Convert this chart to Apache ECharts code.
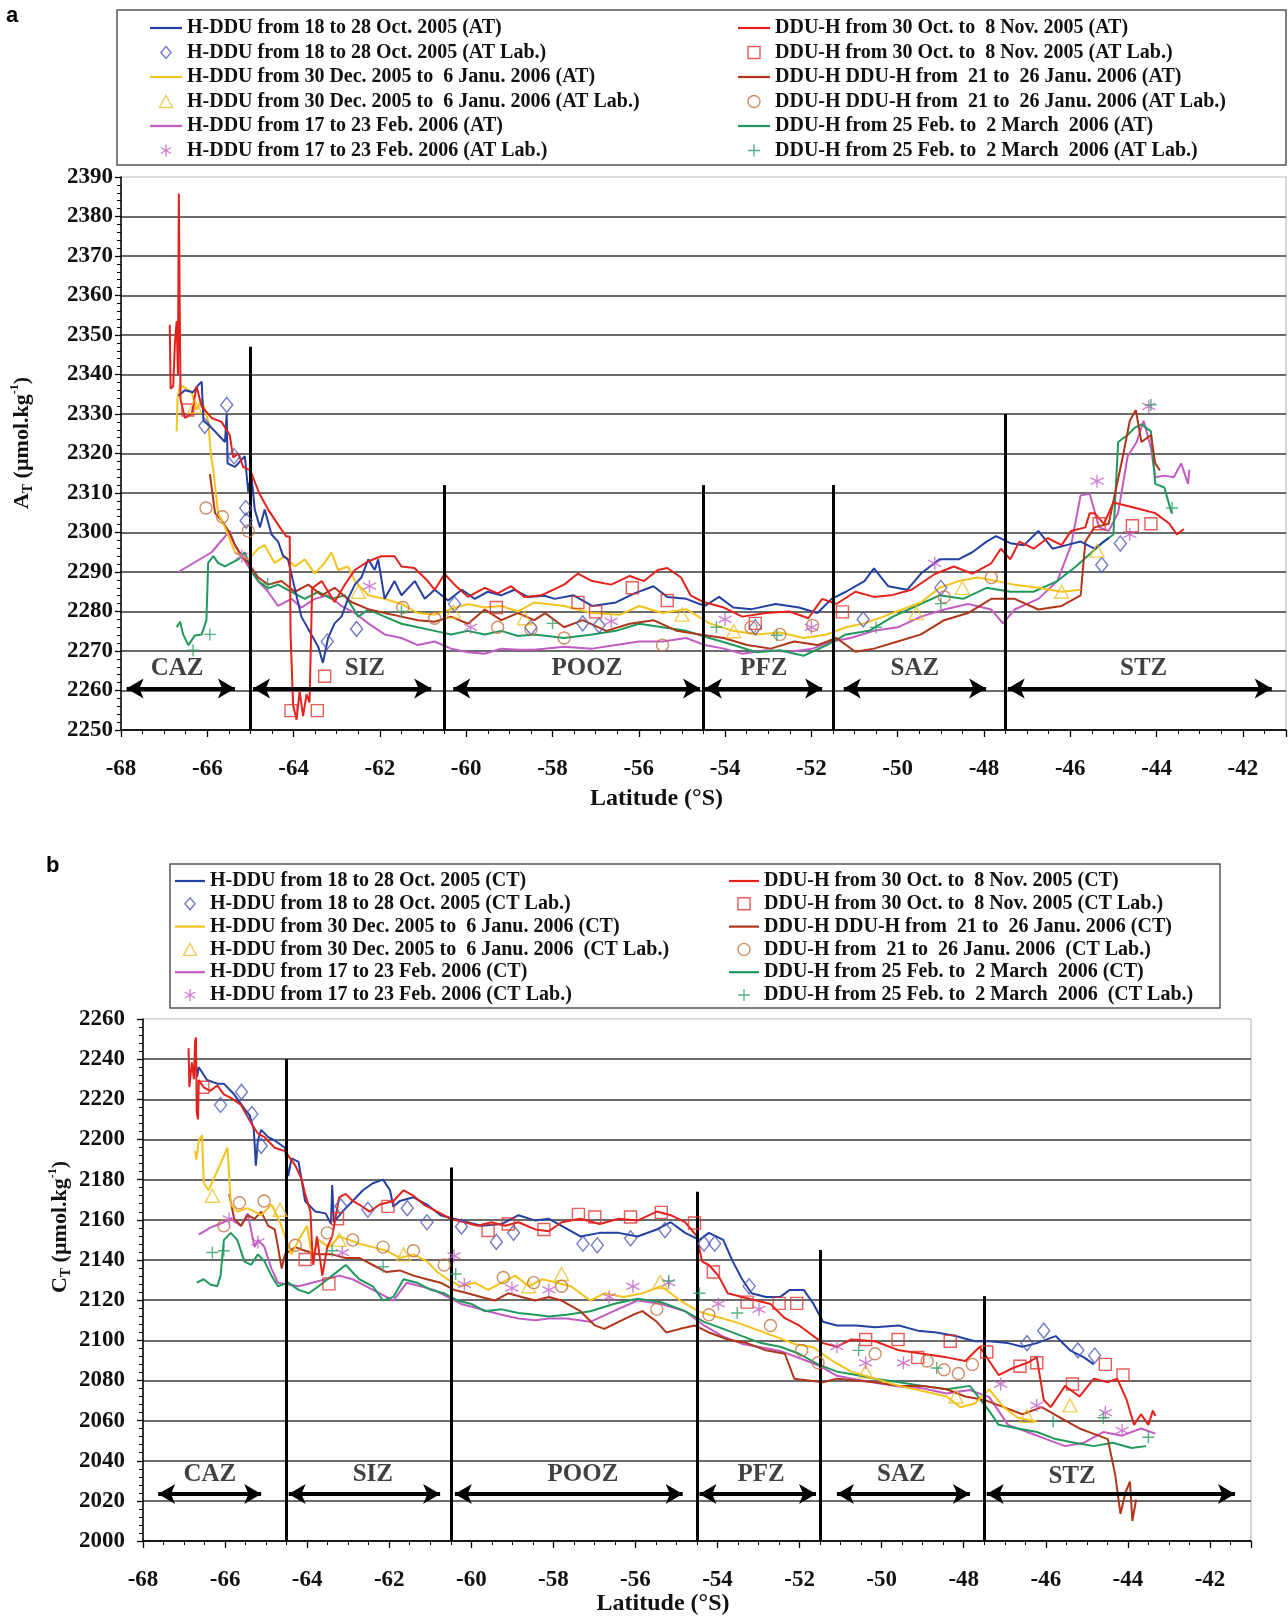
<!DOCTYPE html>
<html><head><meta charset="utf-8">
<script src="https://cdn.jsdelivr.net/npm/echarts@6/dist/echarts.min.js"></script>
<style>html,body{margin:0;padding:0;background:#fff}#c{width:1288px;height:1617px}</style>
</head><body><div id="c"></div>
<script>
// ---------- axis ticks ----------
const xTicks = {min: -68, max: -41, interval: 2};
const aYTicks = {min: 2250, max: 2390, interval: 10};
const bYTicks = {min: 2000, max: 2260, interval: 20};

// ---------- zones ----------
const aZoneLines = [-65, -60.5, -54.5, -51.5, -47.5];
const aZoneTops = [2347, 2312, 2312, 2312, 2330];
const aArrows = [[-67.87,-65.36],[-64.94,-60.81],[-60.3,-54.58],[-54.47,-51.75],[-51.25,-47.95],[-47.45,-41.33]];
const aArrowY = 2260.5;
const aZoneLabels = [[-66.7,2265.5,'CAZ'],[-62.35,2265.5,'SIZ'],[-57.2,2265.5,'POOZ'],[-53.1,2265.5,'PFZ'],[-49.6,2265.5,'SAZ'],[-44.3,2265.5,'STZ']];

const bZoneLines = [-64.5, -60.5, -54.5, -51.5, -47.5];
const bZoneTops = [2240, 2186, 2174, 2145, 2122];
const bArrows = [[-67.63,-65.12],[-64.45,-60.76],[-60.4,-54.85],[-54.44,-51.6],[-51.09,-47.85],[-47.44,-41.39]];
const bArrowY = 2023.5;
const bZoneLabels = [[-66.37,2033,'CAZ'],[-62.4,2033,'SIZ'],[-57.28,2033,'POOZ'],[-52.94,2033,'PFZ'],[-49.52,2033,'SAZ'],[-45.36,2032,'STZ']];

// ---------- panel a : AT ----------
const aBlue = [[-66.67,2334.6],[-66.52,2336],[-66.33,2335.5],[-66.21,2337.3],[-66.13,2338.2],[-66.09,2328.3],[-65.9,2326.5],[-65.59,2322.9],[-65.55,2330.1],[-65.53,2317.5],[-65.36,2316.6],[-65.13,2319.3],[-65.05,2310.3],[-64.98,2314.8],[-64.9,2305.8],[-64.78,2301.3],[-64.67,2305.8],[-64.51,2299.5],[-64.36,2297.7],[-64.24,2294],[-64.13,2293.2],[-63.82,2278.7],[-63.43,2271.1],[-63.32,2267],[-63.2,2273.3],[-63.05,2277],[-62.89,2278.7],[-62.74,2283.2],[-62.58,2286.8],[-62.43,2288.6],[-62.27,2293.2],[-62.12,2290.5],[-62.04,2293.2],[-61.89,2283.2],[-61.66,2287.7],[-61.5,2284.1],[-61.19,2287.7],[-60.96,2283.2],[-60.73,2285.5],[-60.42,2282.8],[-60.1,2285.5],[-59.8,2283.2],[-59.5,2285],[-59.19,2284.1],[-58.88,2285.5],[-58.57,2283.7],[-58.18,2284],[-57.95,2283.2],[-57.51,2284.1],[-57.08,2281.4],[-56.53,2282.3],[-56.1,2284.6],[-55.66,2286.4],[-55.34,2283.7],[-54.9,2283.2],[-54.47,2281.4],[-54.14,2283.7],[-53.81,2281],[-53.38,2280.6],[-52.83,2281.9],[-52.29,2281],[-51.86,2279.6],[-51.53,2283.2],[-51.2,2285],[-50.77,2287.7],[-50.55,2290.9],[-50.22,2286.4],[-49.78,2285.5],[-49.46,2289.6],[-49.03,2293.2],[-48.59,2293.2],[-48.27,2295],[-47.94,2297.7],[-47.72,2299.1],[-47.39,2297.3],[-47.07,2296.8],[-46.74,2300.4],[-46.41,2295.9],[-46.09,2296.8],[-45.76,2297.7],[-45.44,2295.9],[-45.11,2298.6]];
const aRed = [[-66.87,2352.6],[-66.85,2336.4],[-66.79,2337],[-66.75,2348],[-66.71,2353.5],[-66.68,2340],[-66.66,2385.8],[-66.64,2359],[-66.62,2333.7],[-66.52,2329],[-66.36,2330],[-66.25,2337],[-66.13,2331.9],[-65.9,2329],[-65.67,2328],[-65.48,2324.7],[-65.4,2319],[-65.28,2320],[-65.17,2316.6],[-65.0,2315.7],[-64.8,2310],[-64.59,2305.8],[-64.36,2302],[-64.17,2299],[-64.09,2299],[-64.07,2274.2],[-64.01,2256.2],[-63.93,2252.6],[-63.86,2259.8],[-63.78,2253.5],[-63.7,2259],[-63.63,2257],[-63.57,2285.9],[-63.35,2287.7],[-63.05,2282.4],[-62.8,2287],[-62.58,2290.5],[-62.27,2292.7],[-61.97,2294],[-61.66,2294],[-61.5,2291.4],[-61.2,2291],[-60.89,2287.7],[-60.73,2285.5],[-60.5,2289.5],[-60.27,2286.8],[-59.96,2283.7],[-59.57,2286],[-59.27,2284.6],[-58.96,2286.4],[-58.65,2283.7],[-58.26,2284.1],[-57.73,2286.8],[-57.41,2289.6],[-57.08,2287.7],[-56.64,2286.8],[-56.21,2289],[-55.88,2287.7],[-55.56,2290.5],[-55.34,2291],[-55.02,2288.6],[-54.8,2284.1],[-54.5,2282.4],[-54.03,2281],[-53.6,2278.7],[-53.05,2279.6],[-52.51,2280],[-52.07,2278.3],[-51.75,2283.2],[-51.42,2281.9],[-50.98,2285],[-50.55,2283.7],[-50.11,2284.2],[-49.68,2285.5],[-49.14,2289.5],[-48.7,2291.4],[-48.27,2289.6],[-47.83,2292.2],[-47.61,2295.9],[-47.39,2293.2],[-47.18,2297.7],[-46.85,2295.9],[-46.52,2298.6],[-46.2,2296.8],[-45.98,2300.4],[-45.65,2301.3],[-45.55,2304.9],[-45.44,2304.9],[-45.22,2302.2],[-45.0,2307.6],[-44.67,2306.7],[-44.35,2305.8],[-44.03,2304.9],[-43.7,2302.2],[-43.53,2299.5],[-43.37,2300.9]];
const aYellow = [[-66.71,2325.6],[-66.69,2334],[-66.63,2337.3],[-66.48,2336.4],[-66.36,2335.5],[-66.25,2331],[-66.13,2333.7],[-65.98,2328.3],[-65.92,2320],[-65.86,2315.7],[-65.8,2310],[-65.75,2304.9],[-65.59,2301.3],[-65.36,2295],[-65.05,2293.2],[-64.82,2295.9],[-64.67,2296.8],[-64.44,2292.3],[-64.2,2294],[-63.97,2291.4],[-63.74,2293.2],[-63.51,2289.6],[-63.28,2292.3],[-63.12,2295],[-62.97,2290.5],[-62.74,2291.4],[-62.58,2287.7],[-62.27,2284.1],[-61.89,2283.2],[-61.5,2281.9],[-61.12,2279.6],[-60.73,2279.2],[-60.35,2280.6],[-59.96,2281.9],[-59.57,2281],[-59.19,2281.4],[-58.8,2280],[-58.42,2282.3],[-57.73,2281.4],[-57.08,2279.6],[-56.43,2279.2],[-55.99,2281.4],[-55.45,2279.6],[-54.9,2280.6],[-54.36,2277],[-53.81,2275.1],[-53.27,2274.2],[-52.73,2274.7],[-52.18,2273.3],[-51.64,2274.2],[-51.2,2276],[-50.77,2277],[-50.33,2278.7],[-49.9,2280.5],[-49.46,2282.3],[-49.03,2286],[-48.59,2287.7],[-48.15,2288.6],[-47.72,2287.7],[-47.29,2286.8],[-46.74,2286],[-46.2,2285],[-45.76,2285.5]];
const aMagenta = [[-66.67,2290],[-65.9,2295],[-65.48,2300.4],[-65.36,2296.8],[-65.2,2294],[-65.05,2291.4],[-64.82,2287.7],[-64.59,2285],[-64.36,2281.4],[-64.05,2283.2],[-63.82,2281],[-63.51,2283.2],[-63.2,2284.1],[-62.89,2281.4],[-62.58,2279.6],[-62.27,2277],[-61.89,2274.2],[-61.5,2273.3],[-61.12,2271.5],[-60.73,2272.4],[-60.35,2270.6],[-59.96,2269.7],[-59.57,2269.3],[-59.19,2270.6],[-58.8,2270.3],[-58.42,2270.3],[-57.73,2271.1],[-57.08,2270.6],[-56.53,2271.5],[-55.99,2272.4],[-55.45,2272.4],[-54.9,2273.3],[-54.47,2271.5],[-54.03,2270.6],[-53.6,2269.3],[-53.05,2270.2],[-52.51,2269.8],[-51.97,2270.6],[-51.53,2272.4],[-51.09,2273.3],[-50.55,2275.1],[-50.0,2276],[-49.46,2278.7],[-48.92,2280.5],[-48.37,2281.9],[-47.83,2280.5],[-47.56,2277],[-47.29,2280.5],[-46.74,2283.2],[-46.3,2287.7],[-45.98,2296.8],[-45.76,2309.4],[-45.55,2309.8],[-45.33,2301.3],[-45.11,2300.4],[-44.89,2305],[-44.67,2319.3],[-44.46,2322.9],[-44.3,2328.3],[-44.13,2321.4],[-44.03,2314],[-43.82,2314.4],[-43.6,2314],[-43.43,2317.5],[-43.27,2312.3],[-43.24,2315.9]];
const aBrown = [[-65.94,2314.8],[-65.82,2304.9],[-65.67,2303.1],[-65.51,2300.4],[-65.36,2296.8],[-65.2,2294],[-65.05,2292.3],[-64.82,2288.6],[-64.59,2286.8],[-64.28,2287.7],[-63.97,2285],[-63.66,2286.8],[-63.35,2284.1],[-63.05,2286],[-62.66,2282.4],[-62.27,2280.6],[-61.89,2279.6],[-61.5,2278.7],[-61.12,2277.8],[-60.73,2277.4],[-60.35,2278.7],[-59.96,2276.9],[-59.57,2280.5],[-59.19,2277.8],[-58.8,2279.6],[-58.42,2277.8],[-58.17,2279.6],[-57.73,2276],[-57.3,2277.8],[-56.75,2275.1],[-56.21,2276.9],[-55.66,2277.8],[-55.12,2275.1],[-54.58,2274.2],[-54.03,2273.3],[-53.49,2271.5],[-52.94,2270.6],[-52.4,2272.4],[-51.86,2271.5],[-51.42,2273.3],[-50.98,2269.8],[-50.55,2270.6],[-50.0,2272.4],[-49.46,2274.2],[-48.92,2277.8],[-48.37,2279.6],[-47.83,2283.2],[-47.29,2283.2],[-46.74,2280.5],[-46.2,2281.4],[-45.76,2284.1],[-45.65,2297.7],[-45.44,2301.3],[-45.11,2302.2],[-44.78,2319.3],[-44.62,2328.3],[-44.48,2331],[-44.35,2322.9],[-44.13,2324.7],[-44.03,2317.5],[-43.92,2315.7]];
const aGreen = [[-66.71,2276],[-66.63,2277.4],[-66.56,2274.2],[-66.44,2271.5],[-66.29,2273.9],[-66.13,2274.2],[-66.02,2277.8],[-65.98,2292.3],[-65.86,2294],[-65.75,2292.3],[-65.59,2291.4],[-65.44,2292.3],[-65.28,2293.2],[-65.13,2295],[-64.98,2290.5],[-64.82,2287.7],[-64.59,2285.9],[-64.36,2286.8],[-64.05,2285],[-63.74,2283.2],[-63.43,2285],[-63.12,2283.2],[-62.81,2284.1],[-62.5,2278.7],[-62.27,2280.5],[-61.89,2278.7],[-61.5,2276.9],[-61.12,2276],[-60.73,2275.1],[-60.35,2274.2],[-59.96,2275.1],[-59.57,2274.2],[-59.19,2275.1],[-58.8,2273.8],[-58.42,2274.2],[-57.73,2273.3],[-57.08,2274.2],[-56.53,2275.1],[-55.99,2276.9],[-55.45,2276],[-54.9,2275.1],[-54.36,2273.3],[-53.81,2271.5],[-53.27,2269.7],[-52.73,2270.2],[-52.18,2268.8],[-51.64,2271.5],[-51.2,2274.2],[-50.66,2275.1],[-50.11,2278.7],[-49.57,2281.4],[-49.03,2284.1],[-48.48,2283.2],[-47.94,2286],[-47.39,2285],[-46.85,2285],[-46.3,2287.7],[-45.87,2291.4],[-45.22,2297.7],[-45.0,2299.5],[-44.89,2322.9],[-44.67,2324.7],[-44.51,2326.5],[-44.35,2327.4],[-44.13,2325.6],[-44.03,2312.3],[-43.82,2311.4],[-43.65,2304.9]];
const aDiamond = [[-65.55,2332.3],[-66.06,2327],[-65.38,2319.3],[-65.11,2306.2],[-65.1,2303],[-62.54,2275.6],[-63.22,2272.4],[-60.27,2281.9],[-58.5,2276],[-57.3,2277],[-56.92,2276.5],[-53.3,2276],[-50.8,2278],[-49.0,2286],[-45.27,2291.8],[-44.84,2297.2]];
const aSquare = [[-66.45,2331],[-64.06,2254.9],[-63.45,2254.9],[-63.28,2263.6],[-59.3,2281],[-57.41,2282.3],[-57.0,2279.9],[-56.15,2286],[-55.34,2282.8],[-53.3,2277],[-51.28,2279.9],[-45.33,2302.2],[-44.56,2301.7],[-44.13,2302.2]];
const aTriangle = [[-66.29,2331.9],[-62.5,2285],[-60.3,2280],[-58.65,2278.3],[-55.0,2279.2],[-53.8,2275],[-49.57,2279.6],[-48.5,2286],[-46.2,2285],[-45.38,2295.4]];
const aCircle = [[-66.03,2306.2],[-65.65,2304],[-65.05,2300.4],[-61.47,2281],[-60.73,2278.3],[-59.27,2276],[-58.5,2275.6],[-57.73,2273.3],[-55.45,2271.5],[-53.4,2276],[-52.73,2274.2],[-51.97,2276.5],[-48.92,2283.7],[-47.83,2288.6]];
const aStar = [[-65.2,2294],[-62.24,2286.4],[-59.9,2276],[-56.64,2277.5],[-54.0,2278],[-52.0,2276],[-49.14,2292.2],[-45.38,2313],[-44.62,2299.5],[-44.18,2331.9]];
const aPlus = [[-66.33,2270.2],[-65.94,2274.2],[-64.6,2287],[-61.5,2280],[-58.0,2277],[-54.2,2276],[-52.8,2274],[-50.5,2276],[-49.0,2282],[-44.13,2332.3],[-43.64,2306.2]];

// ---------- panel b : CT ----------
const bBlue = [[-66.73,2242.8],[-66.68,2231.3],[-66.64,2236],[-66.44,2229.6],[-66.19,2227.8],[-66.03,2227.8],[-65.78,2222.5],[-65.53,2215.4],[-65.4,2212],[-65.3,2204.8],[-65.25,2187],[-65.2,2199.5],[-65.12,2204.8],[-64.95,2201.2],[-64.79,2199.5],[-64.54,2195.9],[-64.46,2181.8],[-64.38,2190.6],[-64.21,2188.8],[-64.05,2169.4],[-63.8,2164.1],[-63.55,2163.2],[-63.42,2158],[-63.39,2177.3],[-63.35,2158.8],[-63.14,2164.1],[-62.89,2169.4],[-62.64,2174.7],[-62.4,2178.2],[-62.15,2180],[-61.98,2174.7],[-61.9,2166.5],[-61.74,2169.4],[-61.41,2171.2],[-61.08,2167.6],[-60.75,2162.3],[-60.42,2160.5],[-60.09,2158.8],[-59.76,2157],[-59.26,2157.9],[-58.85,2162.3],[-58.44,2159.6],[-58.11,2160.5],[-57.8,2157],[-57.34,2151.7],[-56.87,2153.5],[-56.41,2153.5],[-55.95,2151.7],[-55.48,2155.2],[-55.14,2158.8],[-54.79,2153.5],[-54.44,2150],[-54.21,2153.5],[-53.86,2150],[-53.63,2139.3],[-53.4,2130.4],[-53.17,2123.4],[-52.82,2121.6],[-52.47,2121.6],[-52.24,2125.1],[-51.9,2125.1],[-51.66,2118.1],[-51.43,2109.2],[-51.09,2107.4],[-50.62,2107.4],[-50.16,2106.5],[-49.58,2107.4],[-49.12,2104.8],[-48.66,2103.9],[-48.2,2102.1],[-47.73,2099.5],[-47.38,2099.5],[-46.92,2098.6],[-46.57,2096.8],[-46.22,2098.6],[-45.76,2102.1],[-45.41,2095],[-45.07,2091.5],[-44.83,2088]];
const bRed = [[-66.89,2245.5],[-66.87,2226],[-66.81,2238.4],[-66.76,2230],[-66.73,2249],[-66.71,2250.8],[-66.69,2213.6],[-66.66,2210],[-66.64,2229.6],[-66.52,2226],[-66.36,2224.2],[-66.19,2226.9],[-66.03,2222.5],[-65.86,2220.7],[-65.61,2217.2],[-65.37,2208.3],[-65.2,2203],[-65.04,2201.2],[-64.79,2195.9],[-64.54,2194.2],[-64.29,2187.1],[-64.13,2180],[-64.05,2172.9],[-63.92,2164.1],[-63.88,2146.4],[-63.85,2137.5],[-63.76,2151.7],[-63.63,2132.2],[-63.51,2146.4],[-63.39,2151.7],[-63.22,2171.2],[-63.06,2172.9],[-62.89,2169.4],[-62.73,2167.6],[-62.48,2164.1],[-62.23,2167.6],[-61.9,2169.4],[-61.65,2174.7],[-61.41,2172],[-61.16,2167.6],[-60.83,2164.1],[-60.5,2160.5],[-60.17,2158.8],[-59.84,2157],[-59.51,2158.8],[-59.18,2157],[-58.85,2158.8],[-58.44,2155.2],[-58.11,2154.3],[-57.8,2158.8],[-57.34,2160.5],[-56.87,2157.9],[-56.41,2160.5],[-55.95,2159.6],[-55.48,2164.1],[-55.14,2162.3],[-54.79,2158.8],[-54.5,2151.7],[-54.38,2139.3],[-54.21,2137.5],[-53.98,2132.2],[-53.75,2123.4],[-53.4,2121.6],[-53.05,2119.8],[-52.71,2118.1],[-52.36,2111],[-52.01,2107.4],[-51.78,2103.9],[-51.43,2098.6],[-51.09,2096.8],[-50.74,2100.4],[-50.16,2099.5],[-49.58,2095],[-49.0,2093.3],[-48.42,2091.5],[-47.96,2089.7],[-47.61,2096.8],[-47.38,2089.7],[-47.15,2082.7],[-46.8,2086.2],[-46.45,2088.8],[-46.22,2091.5],[-46.05,2070.3],[-45.88,2066.7],[-45.53,2077.3],[-45.18,2072],[-44.83,2080.9],[-44.49,2079.1],[-44.26,2080.9],[-44.03,2070.3],[-43.85,2057.9],[-43.68,2063.2],[-43.5,2057.9],[-43.39,2065],[-43.33,2062.3]];
const bYellow = [[-66.73,2194.2],[-66.7,2190],[-66.64,2199.5],[-66.56,2202.1],[-66.52,2178.2],[-66.4,2174.7],[-65.94,2195.9],[-65.86,2167.6],[-65.7,2164.1],[-65.45,2165.8],[-65.12,2162.3],[-64.87,2167.6],[-64.66,2158.8],[-64.54,2151.7],[-64.38,2142.8],[-64.21,2149.9],[-64.0,2157],[-63.88,2141],[-63.72,2150],[-63.47,2146.4],[-63.22,2151.7],[-62.97,2150],[-62.73,2148.1],[-62.4,2146.4],[-62.07,2144.6],[-61.74,2141],[-61.41,2142.8],[-61.08,2139.3],[-60.83,2134],[-60.58,2130.4],[-60.25,2126.9],[-59.92,2128.7],[-59.59,2125.1],[-59.26,2128.7],[-58.93,2132.2],[-58.6,2126.9],[-58.27,2130.4],[-57.91,2128.7],[-57.57,2126.9],[-57.1,2119.8],[-56.76,2123.4],[-56.29,2121.6],[-55.83,2123.4],[-55.37,2126.9],[-54.91,2119.8],[-54.44,2114.2],[-53.98,2111.5],[-53.52,2108.8],[-53.05,2105.3],[-52.59,2101.8],[-52.13,2098.2],[-51.66,2096.5],[-51.2,2089.7],[-50.74,2084.4],[-50.16,2080.9],[-49.58,2077.3],[-49.0,2074.7],[-48.42,2072],[-48.08,2066.7],[-47.73,2068.5],[-47.38,2075.6],[-47.03,2066.7],[-46.68,2061.4],[-46.22,2059.6]];
const bMagenta = [[-66.64,2152.6],[-66.36,2156.1],[-66.03,2158.8],[-65.86,2160.5],[-65.61,2157],[-65.45,2163.2],[-65.28,2146.4],[-65.2,2150],[-65.04,2146.4],[-64.87,2135.7],[-64.71,2128.7],[-64.46,2127.8],[-64.21,2126.9],[-63.88,2128.7],[-63.55,2130.4],[-63.22,2132.2],[-62.89,2130.4],[-62.56,2126.9],[-62.23,2123.4],[-61.9,2119.8],[-61.57,2128.7],[-61.24,2126.9],[-60.91,2125.1],[-60.58,2121.6],[-60.25,2118.1],[-59.92,2116.3],[-59.59,2114.5],[-59.26,2112.7],[-58.85,2110.9],[-58.44,2110],[-58.11,2110.9],[-57.68,2110.9],[-57.1,2109.2],[-56.53,2114.5],[-55.95,2119.8],[-55.37,2118.1],[-54.79,2114.5],[-54.33,2107.4],[-53.86,2101.8],[-53.4,2098.2],[-52.94,2096.5],[-52.47,2094.7],[-52.01,2091.2],[-51.55,2087.6],[-51.09,2082.3],[-50.62,2080.5],[-50.16,2078.8],[-49.58,2077],[-49.0,2076.1],[-48.42,2073.5],[-47.85,2075.2],[-47.38,2071.7],[-46.92,2057.9],[-46.45,2054.3],[-45.99,2050.8],[-45.53,2047.3],[-45.07,2049],[-44.6,2054.3],[-44.14,2052.5],[-43.68,2056.1],[-43.33,2053.5]];
const bBrown = [[-65.9,2172.9],[-65.78,2160.5],[-65.61,2157],[-65.45,2162.3],[-65.28,2160.5],[-65.12,2164.1],[-64.95,2157],[-64.79,2155.2],[-64.71,2146.4],[-64.62,2135.7],[-64.54,2142.8],[-64.29,2146.4],[-64.05,2144.6],[-63.72,2142.8],[-63.39,2142.8],[-63.06,2141],[-62.73,2141],[-62.4,2137.5],[-62.07,2134],[-61.74,2134.8],[-61.41,2132.2],[-61.08,2130.4],[-60.75,2128.7],[-60.42,2125.1],[-60.09,2123.4],[-59.76,2121.6],[-59.43,2119.8],[-59.1,2123.4],[-58.77,2121.6],[-58.44,2119.8],[-58.11,2121.6],[-57.8,2119.8],[-57.34,2114.5],[-56.99,2107.4],[-56.76,2105.7],[-56.41,2109.2],[-56.06,2112.7],[-55.83,2114.5],[-55.48,2109.2],[-55.25,2103.9],[-54.91,2105.7],[-54.56,2107.4],[-54.21,2103.9],[-53.75,2100.4],[-53.28,2098.6],[-52.82,2095],[-52.36,2093.3],[-52.13,2080.9],[-51.78,2080],[-51.43,2079.1],[-51.09,2080.9],[-50.62,2080],[-50.16,2079.1],[-49.58,2077.3],[-49.0,2077.3],[-48.42,2075.6],[-47.96,2072],[-47.5,2070.3],[-47.03,2066.7],[-46.57,2063.2],[-46.1,2066.7],[-45.64,2061.4],[-45.18,2056.1],[-44.72,2052.5],[-44.49,2050.8],[-44.31,2033.1],[-44.18,2013.6],[-44.06,2024.2],[-43.95,2029.6],[-43.89,2010],[-43.8,2020.7]];
const bGreen = [[-66.69,2128.7],[-66.52,2130.4],[-66.36,2127.8],[-66.19,2126.9],[-66.11,2132.2],[-66.03,2149.9],[-65.86,2153.5],[-65.7,2149.9],[-65.53,2139.3],[-65.37,2137.5],[-65.2,2142.8],[-65.04,2139.3],[-64.87,2132.2],[-64.71,2126.9],[-64.46,2128.7],[-64.21,2125.1],[-63.96,2123.4],[-63.72,2126.9],[-63.39,2132.2],[-63.06,2137.5],[-62.73,2130.4],[-62.4,2126.9],[-62.15,2119.8],[-61.9,2121.6],[-61.65,2130.4],[-61.32,2128.7],[-60.99,2125.1],[-60.66,2123.4],[-60.33,2119.8],[-60.0,2118.1],[-59.67,2114.5],[-59.26,2115.4],[-58.85,2113.6],[-58.44,2112.7],[-58.11,2111.8],[-57.68,2112.7],[-57.1,2114.5],[-56.53,2118.1],[-55.95,2120.7],[-55.37,2119],[-54.79,2114.5],[-54.33,2109.2],[-53.86,2105.7],[-53.4,2102.1],[-52.94,2098.6],[-52.47,2096.8],[-52.01,2093.3],[-51.55,2088],[-51.09,2084.4],[-50.62,2082.7],[-50.16,2080.9],[-49.58,2079.1],[-49.0,2077.3],[-48.42,2075.6],[-47.85,2077.3],[-47.38,2064.9],[-47.15,2057.9],[-46.68,2056.1],[-46.22,2054.3],[-45.76,2050.8],[-45.3,2049],[-44.83,2047.3],[-44.37,2049],[-43.91,2046.4],[-43.56,2047.3]];
const bDiamond = [[-66.11,2217.2],[-65.6,2223.7],[-65.35,2212.7],[-65.12,2196.8],[-63.18,2166.7],[-62.52,2165],[-61.56,2165.8],[-61.08,2158.8],[-60.24,2156.6],[-59.39,2149],[-58.97,2153.5],[-57.28,2148.1],[-56.93,2147.3],[-56.12,2150.8],[-55.28,2154.9],[-54.33,2148.1],[-54.07,2148.1],[-53.23,2126.9],[-46.46,2098.6],[-46.05,2104.8],[-45.22,2095],[-44.81,2092.4]];
const bSquare = [[-66.54,2226],[-64.05,2140.2],[-63.47,2128.1],[-63.26,2160.5],[-62.03,2166.7],[-59.59,2154.7],[-59.1,2157.9],[-58.23,2155.2],[-57.39,2162.7],[-56.99,2161.4],[-56.12,2161.4],[-55.37,2163.7],[-54.56,2158.4],[-54.1,2134],[-53.28,2119],[-52.5,2118.4],[-52.07,2118.4],[-50.39,2100.4],[-49.6,2100.4],[-49.12,2091.5],[-48.33,2099.5],[-47.44,2094.2],[-46.63,2087.1],[-46.22,2088.8],[-45.35,2078.2],[-44.55,2088],[-44.12,2082.7]];
const bTriangle = [[-66.31,2172],[-64.66,2165],[-63.22,2150],[-61.65,2142.8],[-58.6,2126.9],[-57.8,2133],[-55.4,2129],[-50.39,2084.4],[-48.19,2072],[-46.46,2062.3],[-45.41,2067.6]];
const bCircle = [[-66.03,2157],[-65.65,2168.5],[-65.05,2169.4],[-64.29,2147.3],[-63.51,2153.5],[-62.89,2150],[-62.15,2146.4],[-61.41,2144.6],[-60.66,2137.5],[-59.22,2131.3],[-58.48,2128.7],[-57.8,2126.9],[-55.48,2115.4],[-54.21,2112.7],[-52.71,2107.4],[-51.95,2095],[-51.55,2088.8],[-50.16,2093.3],[-48.89,2089.7],[-48.48,2085.3],[-48.13,2083.5],[-47.79,2088]];
const bStar = [[-65.9,2160.5],[-65.2,2149],[-63.14,2143.7],[-60.42,2142],[-60.17,2127.8],[-59.01,2126],[-58.11,2125.1],[-56.64,2121.6],[-56.06,2126.9],[-55.19,2128.7],[-53.98,2118.1],[-52.99,2115.4],[-51.09,2096.8],[-50.39,2088.8],[-49.47,2088.8],[-47.1,2078.2],[-46.22,2067.6],[-44.55,2064],[-44.14,2055.2]];
const bPlus = [[-66.31,2143.7],[-66.03,2144.6],[-63.39,2144.6],[-62.15,2136.6],[-60.38,2133],[-55.19,2129.6],[-54.44,2123.4],[-53.52,2113.6],[-50.56,2095],[-48.66,2086.2],[-45.82,2059.6],[-44.6,2061.4],[-43.5,2051.7]];

// ---------- names ----------
const aNames = {
  blue:'H-DDU from 18 to 28 Oct. 2005 (AT)', diamond:'H-DDU from 18 to 28 Oct. 2005 (AT Lab.)',
  yellow:'H-DDU from 30 Dec. 2005 to  6 Janu. 2006 (AT)', triangle:'H-DDU from 30 Dec. 2005 to  6 Janu. 2006 (AT Lab.)',
  magenta:'H-DDU from 17 to 23 Feb. 2006 (AT)', star:'H-DDU from 17 to 23 Feb. 2006 (AT Lab.)',
  red:'DDU-H from 30 Oct. to  8 Nov. 2005 (AT)', square:'DDU-H from 30 Oct. to  8 Nov. 2005 (AT Lab.)',
  brown:'DDU-H DDU-H from  21 to  26 Janu. 2006 (AT)', circle:'DDU-H DDU-H from  21 to  26 Janu. 2006 (AT Lab.)',
  green:'DDU-H from 25 Feb. to  2 March  2006 (AT)', plus:'DDU-H from 25 Feb. to  2 March  2006 (AT Lab.)'
};
const bNames = {
  blue:'H-DDU from 18 to 28 Oct. 2005 (CT)', diamond:'H-DDU from 18 to 28 Oct. 2005 (CT Lab.)',
  yellow:'H-DDU from 30 Dec. 2005 to  6 Janu. 2006 (CT)', triangle:'H-DDU from 30 Dec. 2005 to  6 Janu. 2006  (CT Lab.)',
  magenta:'H-DDU from 17 to 23 Feb. 2006 (CT)', star:'H-DDU from 17 to 23 Feb. 2006 (CT Lab.)',
  red:'DDU-H from 30 Oct. to  8 Nov. 2005 (CT)', square:'DDU-H from 30 Oct. to  8 Nov. 2005 (CT Lab.)',
  brown:'DDU-H DDU-H from  21 to  26 Janu. 2006 (CT)', circle:'DDU-H from  21 to  26 Janu. 2006  (CT Lab.)',
  green:'DDU-H from 25 Feb. to  2 March  2006 (CT)', plus:'DDU-H from 25 Feb. to  2 March  2006  (CT Lab.)'
};

// ---------- styles ----------
const SERIF = '"Liberation Serif", "Times New Roman", serif';
const LC = {blue:'#2440a2', yellow:'#f4c31c', magenta:'#c25cc4', red:'#e5211c', brown:'#b0361a', green:'#1f9a5d'};
const MC = {diamond:'#4f5ab8', triangle:'#ecc12f', star:'#c460c8', square:'#e0352f', circle:'#c27040', plus:'#2e9e68'};
const SYM = {
  diamond:'diamond', triangle:'triangle', square:'rect', circle:'circle',
  star:'path://M6,0L6,12M0.8,3L11.2,9M0.8,9L11.2,3', plus:'path://M6,0L6,12M0,6L12,6'
};
const LEGSYM = {
  diamond:'path://M5.5,0L11,6.5L5.5,13L0,6.5Z', triangle:'path://M5.5,0L11,10L0,10Z', square:'path://M0,0L10,0L10,10L0,10Z',
  circle:'circle', star:'path://M6,0L6,12M0.8,3L11.2,9M0.8,9L11.2,3', plus:'path://M6,0L6,12M0,6L12,6'
};
const SYMSIZE = {diamond:[12,15], triangle:[14,13], square:12, circle:12, star:13, plus:12};

function lineS(name, data, color, i){
  return {type:'line', name, data, xAxisIndex:i, yAxisIndex:i, symbol:'none', showSymbol:false,
    lineStyle:{color, width:2}, itemStyle:{color}, z:3, silent:true, animation:false};
}
function labS(name, data, key, i){
  return {type:'scatter', name, data, xAxisIndex:i, yAxisIndex:i, symbol:SYM[key], symbolSize:SYMSIZE[key],
    itemStyle:{color:'rgba(0,0,0,0)', borderColor:MC[key], borderWidth:1.4}, z:5, silent:true, animation:false};
}
function zoneS(i, labels, lines, tops, ymin){
  return {type:'scatter', data:labels, xAxisIndex:i, yAxisIndex:i, symbolSize:1, itemStyle:{color:'rgba(0,0,0,0)'},
    label:{show:true, position:'inside', formatter:p=>p.data[2], fontFamily:SERIF, fontWeight:'bold', fontSize:25, color:'#111'},
    silent:true, z:6, animation:false,
    markLine:{silent:true, symbol:['none','none'], animation:false, label:{show:false},
      lineStyle:{color:'#000', width:3, type:'solid'},
      data: lines.map((x,k)=>[{coord:[x, ymin]},{coord:[x, tops[k]]}])}};
}
function arrowS(i, arrows, y){
  return {type:'line', data:[], xAxisIndex:i, yAxisIndex:i, silent:true, z:6, animation:false,
    markLine:{silent:true, symbol:['arrow','arrow'], symbolSize:[15,17], animation:false, label:{show:false},
      lineStyle:{color:'#000', width:4, type:'solid'},
      data: arrows.map(a=>[{coord:[a[0], y]},{coord:[a[1], y]}])}};
}
function xAx(i, gap, pad, margin){
  return {gridIndex:i, type:'value', min:xTicks.min, max:xTicks.max, interval:xTicks.interval,
    axisLine:{show:true, onZero:false, lineStyle:{color:'#000', width:1.5}},
    axisTick:{show:true, length:7, lineStyle:{color:'#000', width:1.3}},
    minorTick:{show:true, splitNumber:4, length:4, lineStyle:{color:'#000', width:1}},
    splitLine:{show:false},
    axisLabel:{fontFamily:SERIF, fontWeight:'bold', fontSize:23, color:'#111', margin, showMaxLabel:false, formatter:v=>String(v)},
    name:'Latitude (°S)', nameLocation:'middle', nameGap:gap,
    nameTextStyle:{fontFamily:SERIF, fontWeight:'bold', fontSize:24, color:'#111', padding:[0,pad,0,0]}};
}
function yAx(i, t, margin){
  return {gridIndex:i, type:'value', min:t.min, max:t.max, interval:t.interval,
    axisLine:{show:true, lineStyle:{color:'#000', width:1.5}},
    axisTick:{show:true, length:6, lineStyle:{color:'#000', width:1.3}},
    minorTick:{show:true, splitNumber:5, length:4, lineStyle:{color:'#000', width:1}},
    splitLine:{show:true, showMaxLine:false, lineStyle:{color:'#3a3a3a', width:1.5}},
    axisLabel:{fontFamily:SERIF, fontWeight:'bold', fontSize:23, color:'#111', margin, formatter:v=>String(v)}};
}
function legendItems(names, keys, w){
  const lineIcon = 'path://M0,0L'+w+',0L'+w+',2.2L0,2.2Z';
  return keys.map(k => MC[k]
    ? {name:names[k], icon:LEGSYM[k], itemStyle:{color:'rgba(0,0,0,0)', borderColor:MC[k], borderWidth:1.4}}
    : {name:names[k], icon:lineIcon, itemStyle:{color:LC[k], borderWidth:0}});
}
function legendBox(left, top, gap, w, names, keys){
  return {left, top, orient:'vertical', padding:0, itemGap:gap, itemWidth:w, itemHeight:12, selectedMode:false,
    symbolKeepAspect:true,
    textStyle:{fontFamily:SERIF, fontWeight:'bold', fontSize:20, lineHeight:20, color:'#111'},
    data:legendItems(names, keys, w)};
}
const leftKeys = ['blue','diamond','yellow','triangle','magenta','star'];
const rightKeys = ['red','square','brown','circle','green','plus'];

function panelSeries(i, N, D){
  return [
    lineS(N.magenta, D.magenta, LC.magenta, i), lineS(N.green, D.green, LC.green, i),
    lineS(N.brown, D.brown, LC.brown, i), lineS(N.yellow, D.yellow, LC.yellow, i),
    lineS(N.blue, D.blue, LC.blue, i), lineS(N.red, D.red, LC.red, i),
    labS(N.diamond, D.diamond, 'diamond', i), labS(N.square, D.square, 'square', i),
    labS(N.triangle, D.triangle, 'triangle', i), labS(N.circle, D.circle, 'circle', i),
    labS(N.star, D.star, 'star', i), labS(N.plus, D.plus, 'plus', i)
  ];
}

function yTitle(x, y, letter){
  return {type:'text', x, y, rotation:Math.PI/2, z:10,
    style:{text:'{m|'+letter+'}{s|T}{m| (µmol.kg}{p|-1}{m|)}', align:'center', verticalAlign:'middle', fill:'#111',
      rich:{
        m:{fontFamily:SERIF, fontWeight:'bold', fontSize:22, lineHeight:26, verticalAlign:'middle'},
        s:{fontFamily:SERIF, fontWeight:'bold', fontSize:14, lineHeight:26, verticalAlign:'bottom'},
        p:{fontFamily:SERIF, fontWeight:'bold', fontSize:12, lineHeight:26, verticalAlign:'top'}
      }}};
}

const chart = echarts.init(document.getElementById('c'), null, {renderer:'canvas'});
const option = {
  animation:false,
  backgroundColor:'#fff',
  grid:[
    {left:121, right:2, top:177, bottom:887, show:true, borderColor:'#bcbcbc', borderWidth:1.2, backgroundColor:'rgba(0,0,0,0)'},
    {left:143, right:37, top:1019, bottom:72, show:true, borderColor:'#bcbcbc', borderWidth:1.2, backgroundColor:'rgba(0,0,0,0)'}
  ],
  xAxis:[xAx(0, 57, 94, 28), xAx(1, 49, 68, 27)],
  yAxis:[yAx(0, aYTicks, 8), yAx(1, bYTicks, 18)],
  legend:[
    legendBox(150, 18, 4.5, 32, aNames, leftKeys), legendBox(738, 18, 4.5, 32, aNames, rightKeys),
    legendBox(175, 871, 2.8, 30, bNames, leftKeys), legendBox(729, 871, 2.8, 30, bNames, rightKeys)
  ],
  graphic:[
    {type:'rect', shape:{x:117, y:10, width:1169, height:155}, style:{fill:'rgba(0,0,0,0)', stroke:'#555', lineWidth:1.5}, z:-1, silent:true},
    {type:'rect', shape:{x:170, y:864, width:1050, height:144}, style:{fill:'rgba(0,0,0,0)', stroke:'#555', lineWidth:1.5}, z:-1, silent:true},
    {type:'text', x:6, y:5, style:{text:'a', fontFamily:'"Liberation Sans", Arial, sans-serif', fontWeight:'bold', fontSize:22, fill:'#000'}},
    {type:'text', x:46, y:855, style:{text:'b', fontFamily:'"Liberation Sans", Arial, sans-serif', fontWeight:'bold', fontSize:22, fill:'#000'}},
    yTitle(22, 443, 'A'), yTitle(60, 1227, 'C')
  ],
  series:[].concat(
    panelSeries(0, aNames, {blue:aBlue, red:aRed, yellow:aYellow, magenta:aMagenta, brown:aBrown, green:aGreen,
      diamond:aDiamond, square:aSquare, triangle:aTriangle, circle:aCircle, star:aStar, plus:aPlus}),
    panelSeries(1, bNames, {blue:bBlue, red:bRed, yellow:bYellow, magenta:bMagenta, brown:bBrown, green:bGreen,
      diamond:bDiamond, square:bSquare, triangle:bTriangle, circle:bCircle, star:bStar, plus:bPlus}),
    [zoneS(0, aZoneLabels, aZoneLines, aZoneTops, aYTicks.min), arrowS(0, aArrows, aArrowY),
     zoneS(1, bZoneLabels, bZoneLines, bZoneTops, bYTicks.min), arrowS(1, bArrows, bArrowY)]
  )
};
chart.setOption(option);
</script>
</body></html>
